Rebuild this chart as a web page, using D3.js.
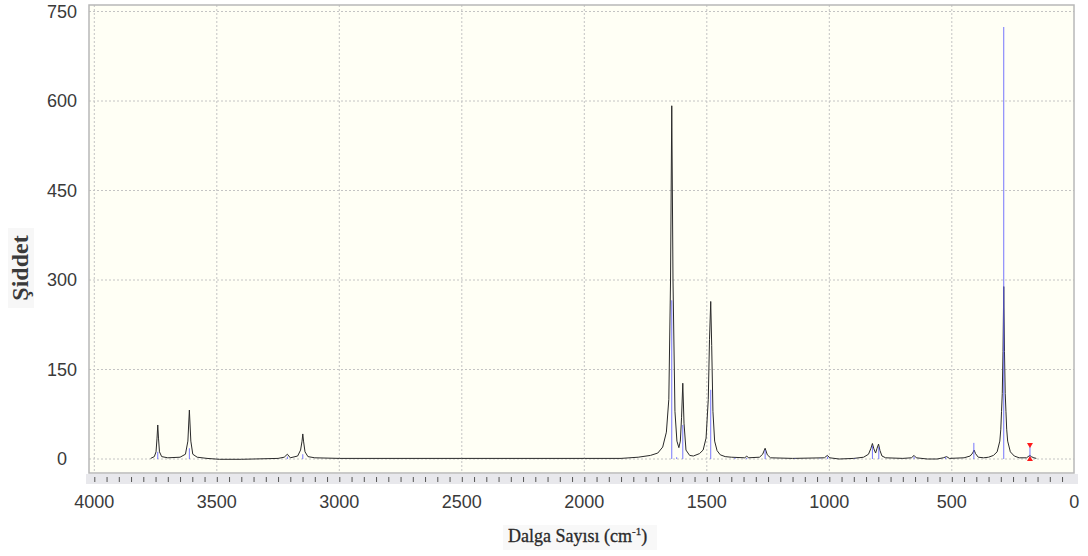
<!DOCTYPE html>
<html>
<head>
<meta charset="utf-8">
<script src="https://cdn.jsdelivr.net/npm/d3@7/dist/d3.min.js"></script>
<style>
  html, body { margin: 0; padding: 0; background: #ffffff; }
  svg { display: block; }
</style>
</head>
<body>
<svg id="chart" width="1088" height="556"></svg>
<script>
// ---- data ----
const xTickLabels = [4000, 3500, 3000, 2500, 2000, 1500, 1000, 500, 0];
const yTickLabels = [0, 150, 300, 450, 600, 750];

// stick spectrum (blue lines): wavenumber (cm-1) and intensity
const stickWave = [3741, 3612, 3212, 3149, 1643, 1623, 1598, 1484, 1385, 1337, 1262, 1140, 1038, 1007, 895, 824, 798, 654, 525, 410, 288, 181];
const stickInt  = [12,   18,   4,    8,    266,  3,    57,   116,  2,    2,    15,   1,    1,    4,    1,   22,  20,  4,   3,   27,  724, 25];

// broadened spectrum (black line): wavenumber and intensity
const curveWave = [3770, 3755, 3748, 3744, 3741, 3738, 3734, 3725, 3700, 3650, 3628, 3618, 3612, 3606, 3598, 3580, 3540, 3490, 3400, 3350, 3250, 3225, 3212, 3200, 3170, 3158, 3152, 3149, 3146, 3140, 3128, 3100, 3000, 2500, 2000, 1850, 1780, 1730, 1700, 1680, 1665, 1655, 1648, 1643, 1638, 1630, 1622, 1614, 1608, 1603, 1598, 1593, 1585, 1570, 1555, 1530, 1515, 1503, 1494, 1489, 1484, 1480, 1475, 1468, 1458, 1445, 1425, 1400, 1345, 1337, 1330, 1285, 1272, 1262, 1253, 1240, 1150, 1020, 1008, 998, 960, 900, 860, 840, 830, 824, 818, 811, 805, 799, 793, 785, 770, 700, 665, 654, 645, 600, 560, 535, 521, 510, 450, 425, 415, 409, 403, 392, 370, 350, 330, 315, 304, 300, 297, 294, 291, 288, 285, 282, 279, 276, 272, 261, 245, 225, 195, 185, 181, 176, 165, 155];
const curveInt  = [1,    4,    12,   35,   57,   35,   12,   4,    2,    3,    8,    30,   82,   30,   8,    3,    1,    -0.5, -0.5, 0,    1,    3,    8,    2,    5,    15,   30,   42,   30,   12,   4,    2,    1,    1,    1,    1,    3,    6,    10,   20,   45,   100,  300,  592,  300,  80,   30,   19,   30,   70,   127,  60,   15,   6,    5,    9,    15,   35,   100,  200,  264,  190,  80,   30,   14,   7,    4,    3,    2,    5,    2,    3,    8,    18,   7,    2,    1,    2,    6,    2,   0,   1,   3,   8,   18,  26,  17,  10,  18,  25,  14,  5,   2,   1,   2,   6,   2,   0,   0,   2,   4,   1,   2,   5,   10,  15,  9,   3,   2,   3,   6,   12,  30,  50,  80,  110, 180, 289, 180, 110, 80,  50,  30,  12,  5,   2,   2,   5,   6,   4,   2,   1];

// marked (cursor) stick
const markerWave = [181];
const markerInt = [25];

// ---- layout ----
const svg = d3.select("#chart");
const frame = { left: 89, right: 1074, top: 5, bottom: 473 };

const x = d3.scaleLinear().domain([4000, 0]).range([94.3, 1074.3]);
const y = d3.scaleLinear().domain([0, 750]).range([459, 11.5]);

// plot background
svg.append("rect")
  .attr("x", frame.left).attr("y", frame.top)
  .attr("width", frame.right - frame.left).attr("height", frame.bottom - frame.top)
  .attr("fill", "#fffff5");

// bottom tick band
svg.append("rect")
  .attr("x", 86).attr("y", frame.bottom + 1)
  .attr("width", 992).attr("height", 10)
  .attr("fill", "#e8e8ec");

// gridlines
const grid = svg.append("g");
grid.selectAll("line.gx").data(xTickLabels.filter(d => d > 0)).join("line")
  .attr("x1", d => x(d)).attr("x2", d => x(d))
  .attr("y1", frame.top).attr("y2", frame.bottom)
  .attr("stroke", "#c4c4c4").attr("stroke-width", 1).attr("stroke-dasharray", "2,2");
grid.selectAll("line.gy").data(yTickLabels).join("line")
  .attr("x1", frame.left).attr("x2", frame.right)
  .attr("y1", d => y(d)).attr("y2", d => y(d))
  .attr("stroke", "#c4c4c4").attr("stroke-width", 1).attr("stroke-dasharray", "2,2");

// frame
svg.append("rect")
  .attr("x", frame.left).attr("y", frame.top)
  .attr("width", frame.right - frame.left).attr("height", frame.bottom - frame.top)
  .attr("fill", "none").attr("stroke", "#b8b8b8").attr("stroke-width", 1.5);

// minor ticks every 50 cm-1 below the frame (d3 axis)
const minorTicks = d3.range(4000, 0, -50);
const xAxis = d3.axisBottom(x).tickValues(minorTicks).tickSize(5).tickFormat("");
const gx = svg.append("g").attr("transform", `translate(0,${frame.bottom + 4})`).call(xAxis);
gx.select(".domain").remove();
gx.selectAll(".tick line").attr("stroke", "#555").attr("stroke-width", 1);

// x tick labels
svg.append("g").selectAll("text").data(xTickLabels).join("text")
  .attr("x", d => x(d)).attr("y", 508)
  .attr("text-anchor", "middle")
  .attr("font-family", "Liberation Sans, Arial, sans-serif")
  .attr("font-size", 18).attr("fill", "#3a3a3a")
  .text(d => d);

// y tick labels
svg.append("g").selectAll("text").data(yTickLabels).join("text")
  .attr("x", 62).attr("y", d => y(d) + 6)
  .attr("text-anchor", "middle")
  .attr("font-family", "Liberation Sans, Arial, sans-serif")
  .attr("font-size", 18).attr("fill", "#3a3a3a")
  .text(d => d);

// axis titles
svg.append("rect").attr("x", 8).attr("y", 228).attr("width", 26).attr("height", 80).attr("fill", "#f7f7f7");
svg.append("text")
  .attr("transform", "translate(28,268) rotate(-90)")
  .attr("text-anchor", "middle")
  .attr("font-family", "Liberation Serif, Times New Roman, serif")
  .attr("font-weight", "bold").attr("font-size", 24).attr("fill", "#3a3a3a")
  .text("Şiddet");

svg.append("rect").attr("x", 503).attr("y", 525).attr("width", 154).attr("height", 25).attr("fill", "#f8f8f8");
const xl = svg.append("text")
  .attr("x", 508).attr("y", 542)
  .attr("font-family", "Liberation Serif, Times New Roman, serif")
  .attr("font-size", 18).attr("fill", "#2a2a2a")
  .attr("stroke", "#2a2a2a").attr("stroke-width", 0.3);
xl.append("tspan").text("Dalga Sayısı  (cm");
xl.append("tspan").attr("font-size", 11).attr("dy", -7).text("-1");
xl.append("tspan").attr("dy", 7).text(")");

// spectrum
const plot = svg.append("g");
const curve = curveWave.map((w, i) => [w, curveInt[i]]);
plot.append("path")
  .datum(curve)
  .attr("fill", "none").attr("stroke", "#2a2a2a").attr("stroke-width", 1)
  .attr("stroke-linejoin", "round")
  .attr("d", d3.line().x(d => x(d[0])).y(d => y(d[1])));

// sticks
const sticks = stickWave.map((w, i) => [w, stickInt[i]]);
plot.selectAll("line.stick").data(sticks).join("line")
  .attr("x1", d => x(d[0])).attr("x2", d => x(d[0]))
  .attr("y1", y(0)).attr("y2", d => y(d[1]))
  .attr("stroke", "#5f5fff").attr("stroke-width", 1).attr("opacity", 0.85);

// red cursor markers
const markers = markerWave.map((w, i) => [w, markerInt[i]]);
markers.forEach(([w, v]) => {
  const cx = x(w), yt = y(v), yb = y(0);
  plot.append("path")
    .attr("d", `M${cx - 3},${yt - 1} L${cx + 3},${yt - 1} L${cx},${yt + 4} Z`)
    .attr("fill", "#ff1a1a");
  plot.append("path")
    .attr("d", `M${cx - 3},${yb + 2} L${cx + 3},${yb + 2} L${cx},${yb - 3} Z`)
    .attr("fill", "#ff1a1a");
});
</script>
</body>
</html>
